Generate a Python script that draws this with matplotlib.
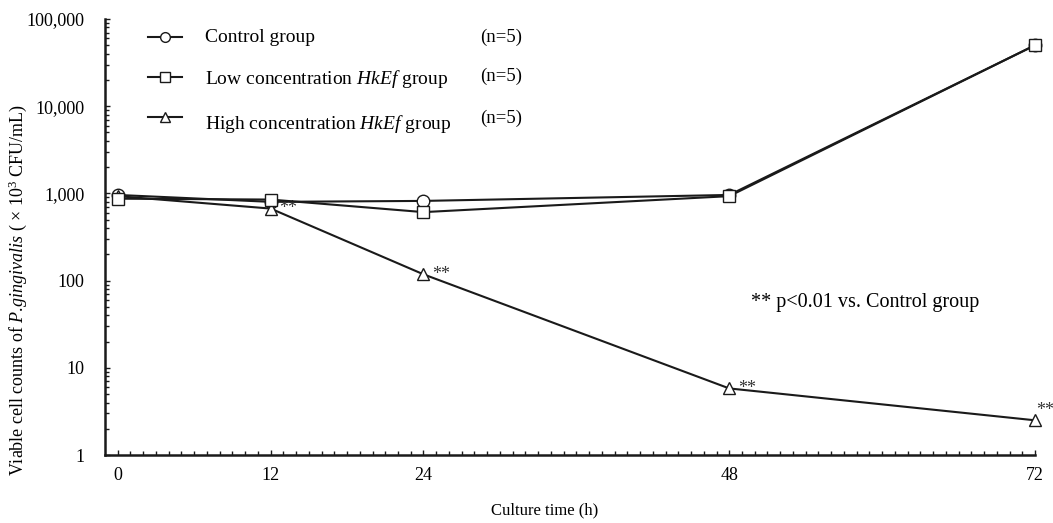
#!/usr/bin/env python3
"""
Viable P. gingivalis counts over culture time, three groups, log scale.

Output: out.png
"""
import matplotlib.pyplot as plt
from matplotlib.ticker import FixedLocator, LogLocator, NullFormatter, FuncFormatter

hours = [0, 12, 24, 48, 72]
control = [960, 800, 820, 960, 50000]
low_conc = [870, 850, 610, 930, 50000]
high_conc = [930, 670, 118, 5.8, 2.5]

sig_hours = [12, 24, 48, 72]
sig_values = [670, 118, 5.8, 2.5]

labels = ['Control group',
          r'Low concentration $\mathit{HkEf}$ group',
          r'High concentration $\mathit{HkEf}$ group']
n_text = ['(n=5)', '(n=5)', '(n=5)']


def main():
    plt.rcParams['font.family'] = 'Liberation Serif'
    plt.rcParams['mathtext.fontset'] = 'custom'
    plt.rcParams['mathtext.rm'] = 'Liberation Serif'
    plt.rcParams['mathtext.it'] = 'Liberation Serif:italic'

    fig = plt.figure(figsize=(10.53, 5.23), dpi=100)
    ax = fig.add_axes([105 / 1053, 68 / 523, 930 / 1053, 436 / 523])

    style = dict(color='#1a1a1a', lw=1.5, markersize=9, markerfacecolor='white',
                 markeredgecolor='#1a1a1a', markeredgewidth=1.0, clip_on=False)
    ax.plot(hours, control, marker='o', zorder=3, **style)
    ax.plot(hours, high_conc, marker='^', zorder=4, **style)
    ax.plot(hours, low_conc, marker='s', zorder=5, **style)

    ax.set_yscale('log')
    ax.set_ylim(1, 100000)
    ax.set_xlim(-1, 72)
    ax.xaxis.set_major_locator(FixedLocator(hours))
    ax.xaxis.set_minor_locator(FixedLocator(range(0, 73)))
    ax.yaxis.set_major_locator(LogLocator(base=10))
    ax.yaxis.set_minor_locator(LogLocator(base=10, subs=range(2, 10)))
    ax.yaxis.set_minor_formatter(NullFormatter())
    ax.yaxis.set_major_formatter(FuncFormatter(lambda v, p: f'{int(round(v)):,}'))

    for s in ['top', 'right']:
        ax.spines[s].set_visible(False)
    for s in ['left', 'bottom']:
        ax.spines[s].set_linewidth(1.8)
        ax.spines[s].set_color('#1a1a1a')
    ax.tick_params(axis='both', which='both', direction='in', color='#1a1a1a', width=1.0)
    ax.tick_params(axis='both', which='major', length=3.5, labelsize=13)
    ax.tick_params(axis='both', which='minor', length=3)
    ax.tick_params(axis='y', which='major', pad=15)
    ax.tick_params(axis='x', which='major', pad=9)

    ax.set_xlabel('Culture time (h)', fontsize=12)
    ax.xaxis.set_label_coords(0.473, -0.108)
    ax.set_ylabel(r'Viable cell counts of $\mathit{P.\!gingivalis}$ ( $\times$ 10$^{3}$ CFU/mL)', fontsize=13)
    ax.yaxis.set_label_coords(-0.082, 0.378)

    # significance marks
    for h, v in zip(sig_hours, sig_values):
        dy = 1.3 if h == 72 else 1.0
        dx = 0.1 if h == 72 else 0.7
        ax.text(h + dx, v * dy, '**', fontsize=13, ha='left', va='center', color='#333333')
    ax.text(0.695, 0.35, '** p<0.01 vs. Control group', transform=ax.transAxes,
            fontsize=14.5, ha='left', va='center')

    # manual legend
    markers = ['o', 's', '^']
    line_y = [37, 77, 117]
    text_y = [38, 79, 124]
    n_y = [37, 76, 118]
    for m, ly, ty, ny, lab, nt in zip(markers, line_y, text_y, n_y, labels, n_text):
        yf = 1 - ly / 523
        fig.add_artist(plt.Line2D([148 / 1053, 182 / 1053], [yf, yf], transform=fig.transFigure,
                                  color='#1a1a1a', lw=1.5))
        fig.add_artist(plt.Line2D([165 / 1053], [yf], transform=fig.transFigure, marker=m,
                                  markersize=7, markerfacecolor='white', markeredgecolor='#1a1a1a',
                                  markeredgewidth=1.0))
        fig.text(205 / 1053, 1 - ty / 523, lab, fontsize=14, ha='left', va='center')
        fig.text(480 / 1053, 1 - ny / 523, nt, fontsize=13.5, ha='left', va='center')

    plt.savefig('out.png', dpi=100, facecolor='white')


if __name__ == '__main__':
    main()
